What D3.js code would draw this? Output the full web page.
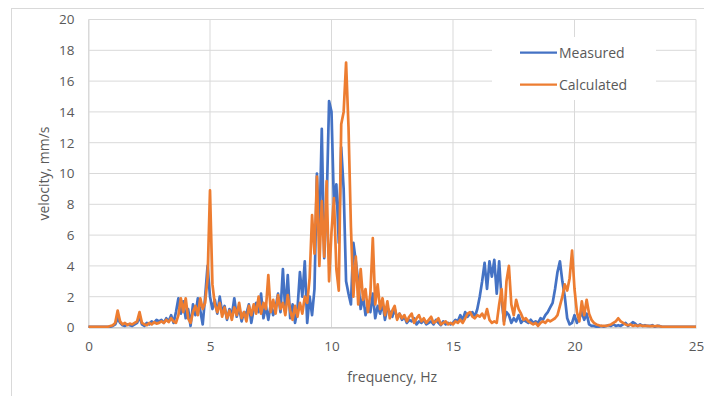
<!DOCTYPE html>
<html>
<head>
<meta charset="utf-8">
<script src="https://cdn.jsdelivr.net/npm/d3@7"></script>
<style>
  body { margin: 0; background: #fff; }
  text { font-family: "Open Sans", sans-serif; fill: #595959; }
</style>
</head>
<body>
<div id="chart"></div>
<script>
// spectrum sampled every 0.1 Hz, from 0 to 25 Hz
const freqStep = 0.1;
const xTicks = [0, 5, 10, 15, 20, 25];
const yTicks = [0, 2, 4, 6, 8, 10, 12, 14, 16, 18, 20];
const seriesNames = ['Measured', 'Calculated'];

const measured = [
  0.05, 0.05, 0.05, 0.05, 0.05, 0.05, 0.05, 0.05, 0.05, 0.05,
  0.1, 0.2, 0.6, 0.3, 0.15, 0.1, 0.2, 0.15, 0.1, 0.2,
  0.3, 0.7, 0.2, 0.1, 0.3, 0.2, 0.4, 0.3, 0.5, 0.4,
  0.5, 0.3, 0.6, 0.4, 0.8, 0.3, 1.0, 1.9, 0.9, 1.7,
  0.6, 1.2, 0.1, 1.5, 0.8, 1.9, 1.1, 0.2, 2.0, 4.0,
  2.0, 1.2, 1.8, 0.9, 2.0, 1.0, 1.4, 0.5, 1.2, 0.8,
  1.9, 0.7, 1.3, 0.4, 1.0, 0.9, 1.5, 0.3, 1.2, 1.6,
  1.0, 2.2, 0.6, 1.4, 0.5, 1.5, 0.8, 1.3, 2.2, 1.0,
  3.8, 1.0, 3.4, 0.6, 1.5, 0.3, 1.2, 3.6, 2.0, 4.3,
  0.3, 2.0, 0.8, 2.5, 10.0, 6.0, 12.9, 4.5, 8.0, 14.7,
  14.0, 8.0, 9.3, 5.5, 11.7, 9.0, 3.0, 2.2, 1.5, 5.5,
  4.3, 3.0, 1.2, 2.0, 0.8, 1.5, 1.0, 2.2, 0.6, 1.4,
  0.9, 1.6, 0.5, 1.3, 1.0, 0.7, 1.2, 0.6, 0.9, 0.5,
  0.7, 0.3, 0.5, 0.4, 0.6, 0.2, 0.4, 0.3, 0.5, 0.2,
  0.3, 0.4, 0.2, 0.5, 0.3, 0.15, 0.4, 0.2, 0.3, 0.2,
  0.3, 0.5, 0.4, 0.8, 0.5, 1.0, 0.7, 0.9, 1.0, 0.7,
  1.2, 2.0, 3.0, 4.2, 2.5, 4.3, 3.3, 4.4, 2.2, 4.3,
  1.8, 0.4, 1.0, 0.8, 0.3, 0.6, 0.4, 0.8, 0.3, 0.5,
  0.4, 0.3, 0.5, 0.3, 0.4, 0.3, 0.6, 0.5, 0.8, 1.0,
  1.3, 1.6, 2.5, 3.6, 4.3, 3.0, 2.0, 0.6, 0.2, 0.3,
  0.8, 0.3, 0.6, 1.0, 0.5, 0.9, 0.2, 0.1, 0.1, 0.05,
  0.05, 0.1, 0.05, 0.1, 0.15, 0.1, 0.2, 0.1, 0.15, 0.1,
  0.2, 0.3, 0.1, 0.2, 0.35, 0.25, 0.1, 0.2, 0.1, 0.15,
  0.1, 0.1, 0.15, 0.05, 0.1, 0.1, 0.05, 0.05, 0.05, 0.05,
  0.05, 0.05, 0.05, 0.05, 0.05, 0.05, 0.05, 0.05, 0.05, 0.05,
  0.05
];

const calculated = [
  0.05, 0.05, 0.05, 0.05, 0.05, 0.05, 0.05, 0.05, 0.05, 0.1,
  0.15, 0.3, 1.1, 0.4, 0.2, 0.3, 0.15, 0.25, 0.2, 0.3,
  0.4, 1.0, 0.3, 0.2, 0.15, 0.3, 0.2, 0.35, 0.25, 0.3,
  0.4, 0.3, 0.5, 0.35, 0.6, 0.4, 0.3, 0.8, 1.9, 1.0,
  1.9, 0.6, 0.3, 1.0, 1.4, 0.8, 1.9, 1.2, 1.6, 3.2,
  8.9, 2.8, 1.5, 1.0, 1.6, 0.7, 1.3, 0.6, 1.1, 0.5,
  1.3, 0.8, 1.6, 0.6, 1.0, 0.4, 1.4, 0.8, 1.5, 0.9,
  2.0, 0.9, 1.6, 1.2, 3.4, 1.0, 1.8, 0.9, 2.1, 1.2,
  1.6, 0.8, 2.1, 1.1, 0.5, 1.4, 0.7, 1.6, 0.9, 2.0,
  1.6, 3.2, 7.3, 4.8, 9.8, 4.0, 8.2, 4.6, 9.5, 3.0,
  6.2, 8.4, 3.8, 2.4, 13.2, 14.0, 17.2, 13.0, 6.5, 2.0,
  4.6, 1.5, 3.8, 1.8, 2.5, 1.0, 2.2, 5.8, 1.5, 2.8,
  1.2, 1.9, 0.8, 1.7, 0.6, 1.1, 1.4, 0.5, 0.9, 0.6,
  0.8, 0.4, 0.7, 0.9, 0.3, 0.6, 0.8, 0.4, 0.6, 0.3,
  0.5, 0.7, 0.3, 0.4, 0.6, 0.2, 0.3, 0.4, 0.2, 0.3,
  0.2, 0.4, 0.3, 0.5, 0.3, 0.6, 0.9, 1.0, 0.7, 0.6,
  0.8, 0.7, 0.9, 0.6, 1.2, 0.5, 0.3, 0.4, 0.3, 1.5,
  2.5, 0.2, 3.0, 4.0, 1.5, 0.8, 1.8, 1.2, 0.9, 0.5,
  0.6, 0.4, 0.3, 0.2, 0.3, 0.1, 0.3, 0.4, 0.3, 0.5,
  0.4, 0.5, 0.6, 0.8, 1.4, 2.0, 2.8, 2.4, 3.2, 5.0,
  2.5, 1.0, 0.4, 1.7, 0.8, 1.8, 0.9, 0.5, 0.3, 0.2,
  0.15, 0.1, 0.1, 0.1, 0.15, 0.2, 0.3, 0.4, 0.6, 0.4,
  0.3, 0.2, 0.15, 0.2, 0.1, 0.15, 0.1, 0.15, 0.1, 0.1,
  0.1, 0.08, 0.1, 0.08, 0.1, 0.08, 0.05, 0.05, 0.05, 0.05,
  0.05, 0.05, 0.05, 0.05, 0.05, 0.05, 0.05, 0.05, 0.05, 0.05,
  0.05
];

const colors = ['#4472C4', '#ED7D31'];

const width = 704, height = 396;
const margin = {top: 19.5, right: 8, bottom: 68.5, left: 88.5};
const innerW = width - margin.left - margin.right;
const innerH = height - margin.top - margin.bottom;

const svg = d3.select('#chart').append('svg')
  .attr('width', width)
  .attr('height', height);

// outer chart border
svg.append('rect')
  .attr('x', 11.5).attr('y', 8.5)
  .attr('width', width).attr('height', height)
  .attr('fill', 'none')
  .attr('stroke', '#d9d9d9');

const g = svg.append('g').attr('transform', `translate(${margin.left},${margin.top})`);

const x = d3.scaleLinear().domain([0, 25]).range([0, innerW]);
const y = d3.scaleLinear().domain([0, 20]).range([innerH, 0]);

// grid
g.append('g')
  .selectAll('line')
  .data(yTicks)
  .enter().append('line')
  .attr('x1', 0).attr('x2', innerW)
  .attr('y1', d => y(d)).attr('y2', d => y(d))
  .attr('stroke', '#d9d9d9').attr('stroke-width', 1);
g.append('g')
  .selectAll('line')
  .data(xTicks)
  .enter().append('line')
  .attr('x1', d => x(d)).attr('x2', d => x(d))
  .attr('y1', 0).attr('y2', innerH)
  .attr('stroke', '#d9d9d9').attr('stroke-width', 1);

// axes
const xAxis = g.append('g')
  .attr('transform', `translate(0,${innerH})`)
  .call(d3.axisBottom(x).tickValues(xTicks).tickSize(0).tickPadding(14).tickFormat(d3.format('d')));
xAxis.select('.domain').attr('stroke', '#bfbfbf');
xAxis.selectAll('text').style('font-size', '13.5px').attr('fill', '#595959');

const yAxis = g.append('g')
  .call(d3.axisLeft(y).tickValues(yTicks).tickSize(0).tickPadding(14).tickFormat(d3.format('d')));
yAxis.select('.domain').attr('stroke', '#d9d9d9');
yAxis.selectAll('text').style('font-size', '13.5px').attr('fill', '#595959');

// series
const line = d3.line()
  .x((d, i) => x(i * freqStep))
  .y(d => y(d));

[measured, calculated].forEach((series, k) => {
  g.append('path')
    .datum(series)
    .attr('fill', 'none')
    .attr('stroke', colors[k])
    .attr('stroke-width', 2.7)
    .attr('stroke-linejoin', 'round')
    .attr('d', line);
});

// axis titles
svg.append('text')
  .attr('x', margin.left + innerW / 2)
  .attr('y', 382)
  .attr('text-anchor', 'middle')
  .style('font-size', '14px')
  .text('frequency, Hz');

svg.append('text')
  .attr('transform', `translate(49,${margin.top + innerH / 2}) rotate(-90)`)
  .attr('text-anchor', 'middle')
  .style('font-size', '14px')
  .text('velocity, mm/s');

// legend
const legend = svg.append('g');
legend.append('rect')
  .attr('x', 492).attr('y', 37)
  .attr('width', 164).attr('height', 63)
  .attr('fill', '#fff');
seriesNames.forEach((name, k) => {
  const ly = 52.5 + k * 32;
  legend.append('line')
    .attr('x1', 520).attr('x2', 557)
    .attr('y1', ly).attr('y2', ly)
    .attr('stroke', colors[k])
    .attr('stroke-width', 2.25);
  legend.append('text')
    .attr('x', 559).attr('y', ly + 5)
    .style('font-size', '14px')
    .text(name);
});
</script>
</body>
</html>
